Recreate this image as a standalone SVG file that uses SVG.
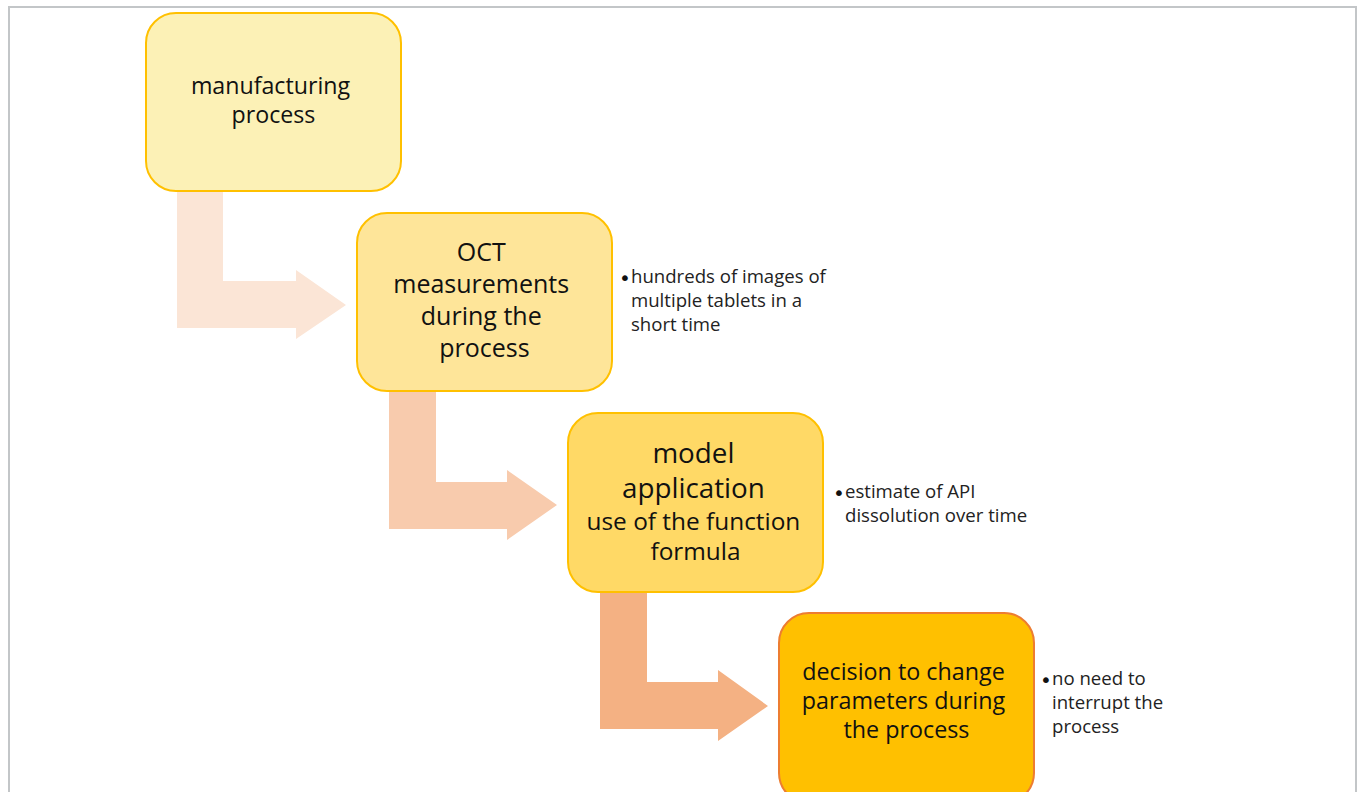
<svg xmlns="http://www.w3.org/2000/svg" width="1363" height="792" viewBox="0 0 1363 792">
  <style>
    .box { stroke-width: 2; }
    .lbl { font-family: "Open Sans", "Noto Sans", sans-serif; fill: #111; text-anchor: middle; }
    .note { font-family: "Open Sans", "Noto Sans", sans-serif; fill: #222; font-size: 18.6px; }
    .dot { font-family: "DejaVu Sans", sans-serif; fill: #111; font-size: 20px; }
  </style>
  <rect width="1363" height="792" fill="#fff"/>
  <!-- frame -->
  <path d="M9,792 V7 H1356 V792" fill="none" stroke="#c3c6c8" stroke-width="2"/>

  <!-- bent arrows between steps -->
  <g id="connectors">
    <path d="M177,191 H223 V281 H296 V270 L346,305 L296,339 V328 H177 Z" fill="#fbe5d6"/>
    <path d="M389,391 H436 V482 H507 V470 L557,505 L507,540 V529 H389 Z" fill="#f8cbad"/>
    <path d="M600,592 H647 V682 H718 V670 L768,706 L718,741 V729 H600 Z" fill="#f4b183"/>
  </g>

  <g id="step1">
    <rect class="box" x="146" y="13" width="255" height="178" rx="30" fill="#fcf1b6" stroke="#ffc000"/>
    <text class="lbl" x="273.5" font-size="23.2">
      <tspan x="273.5" y="94">manufacturing</tspan>
      <tspan x="273.5" y="123">process</tspan>
    </text>
  </g>

  <g id="step2">
    <rect class="box" x="357" y="213" width="255" height="178" rx="30" fill="#fee599" stroke="#ffc000"/>
    <text class="lbl" x="484.5" font-size="25">
      <tspan x="484.5" y="261">OCT</tspan>
      <tspan x="484.5" y="293">measurements</tspan>
      <tspan x="484.5" y="325">during the</tspan>
      <tspan x="484.5" y="357">process</tspan>
    </text>
  </g>
  <g id="note2">
    <text class="dot" x="619" y="285">•</text>
    <text class="note">
      <tspan x="631" y="283">hundreds of images of</tspan>
      <tspan x="631" y="307">multiple tablets in a</tspan>
      <tspan x="631" y="331">short time</tspan>
    </text>
  </g>

  <g id="step3">
    <rect class="box" x="568" y="413" width="255" height="179" rx="30" fill="#ffd966" stroke="#ffc000"/>
    <text class="lbl" x="695.5">
      <tspan x="695.5" y="463" font-size="27.8">model</tspan>
      <tspan x="695.5" y="498" font-size="27.8">application</tspan>
      <tspan x="695.5" y="530" font-size="24.4">use of the function</tspan>
      <tspan x="695.5" y="560" font-size="24.4">formula</tspan>
    </text>
  </g>
  <g id="note3">
    <text class="dot" x="833" y="500">•</text>
    <text class="note">
      <tspan x="845" y="498">estimate of API</tspan>
      <tspan x="845" y="522">dissolution over time</tspan>
    </text>
  </g>

  <g id="step4">
    <rect class="box" x="779" y="613" width="255" height="190" rx="30" fill="#ffc000" stroke="#ed7d31"/>
    <text class="lbl" x="906.5" font-size="23.3">
      <tspan x="906.5" y="680">decision to change</tspan>
      <tspan x="906.5" y="709">parameters during</tspan>
      <tspan x="906.5" y="738">the process</tspan>
    </text>
  </g>
  <g id="note4">
    <text class="dot" x="1040" y="687">•</text>
    <text class="note">
      <tspan x="1052" y="685">no need to</tspan>
      <tspan x="1052" y="709">interrupt the</tspan>
      <tspan x="1052" y="733">process</tspan>
    </text>
  </g>
</svg>
